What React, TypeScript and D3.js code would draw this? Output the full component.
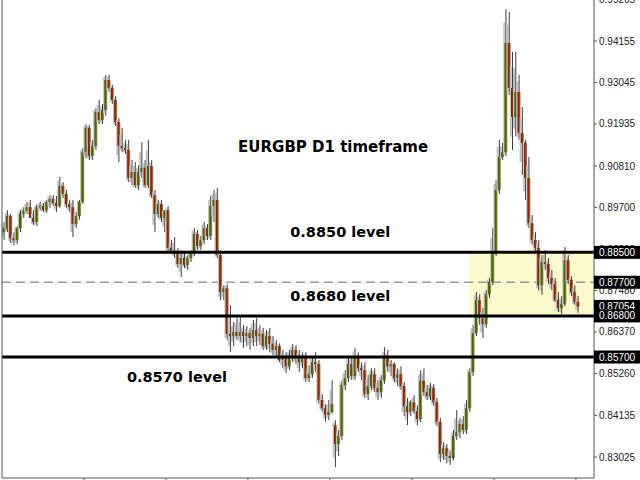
import React from 'react';
import * as d3 from 'd3';

const opens = [
  0.8904, 0.8912, 0.8947, 0.8888, 0.8883, 0.8915, 0.8953, 0.8961, 0.8971, 0.8942,
  0.8931, 0.8971, 0.8974, 0.8963, 0.8985, 0.8993, 0.8982, 0.8974, 0.9027, 0.9006,
  0.8979, 0.8971, 0.8926, 0.8947, 0.8985, 0.9118, 0.9183, 0.9108, 0.9135, 0.9225,
  0.9204, 0.9231, 0.9311, 0.9290, 0.9258, 0.9199, 0.9135, 0.9129, 0.9124, 0.9049,
  0.9065, 0.9030, 0.9065, 0.9076, 0.9030, 0.9081, 0.9003, 0.8953, 0.8979, 0.8942,
  0.8963, 0.8862, 0.8854, 0.8848, 0.8819, 0.8835, 0.8816, 0.8835, 0.8848, 0.8899,
  0.8867, 0.8883, 0.8915, 0.8894, 0.8974, 0.8990, 0.8843, 0.8744, 0.8754, 0.8632,
  0.8626, 0.8637, 0.8626, 0.8637, 0.8626, 0.8634, 0.8621, 0.8642, 0.8626, 0.8632,
  0.8599, 0.8626, 0.8605, 0.8589, 0.8599, 0.8562, 0.8567, 0.8545, 0.8573, 0.8589,
  0.8567, 0.8556, 0.8567, 0.8514, 0.8524, 0.8556, 0.8551, 0.8455, 0.8433, 0.8415,
  0.8423, 0.8388, 0.8337, 0.8359, 0.8495, 0.8514, 0.8551, 0.8519, 0.8567, 0.8540,
  0.8535, 0.8471, 0.8492, 0.8524, 0.8487, 0.8476, 0.8508, 0.8567, 0.8545, 0.8551,
  0.8514, 0.8524, 0.8492, 0.8438, 0.8423, 0.8449, 0.8425, 0.8404, 0.8506, 0.8476,
  0.8465, 0.8487, 0.8449, 0.8396, 0.8310, 0.8326, 0.8305, 0.8300, 0.8359, 0.8369,
  0.8391, 0.8375, 0.8433, 0.8530, 0.8634, 0.8722, 0.8674, 0.8658, 0.8738, 0.8771,
  0.8851, 0.9017, 0.9105, 0.9118, 0.9410, 0.9290, 0.9212, 0.9279, 0.9169, 0.9143,
  0.9049, 0.8928, 0.8883, 0.8862, 0.8762, 0.8824, 0.8819, 0.8781, 0.8765, 0.8722,
  0.8701, 0.8712, 0.8829, 0.8776, 0.8744, 0.8717,
];

const highs = [
  0.8931, 0.8963, 0.8953, 0.8904, 0.8920, 0.8963, 0.8971, 0.8985, 0.8990, 0.8963,
  0.8979, 0.8985, 0.8982, 0.8990, 0.9003, 0.9003, 0.9001, 0.9052, 0.9038, 0.9017,
  0.8990, 0.8990, 0.8958, 0.8990, 0.9129, 0.9193, 0.9191, 0.9151, 0.9236, 0.9258,
  0.9247, 0.9325, 0.9325, 0.9298, 0.9268, 0.9209, 0.9183, 0.9151, 0.9151, 0.9097,
  0.9092, 0.9083, 0.9145, 0.9097, 0.9151, 0.9097, 0.9017, 0.8990, 0.8990, 0.8963,
  0.8974, 0.8883, 0.8891, 0.8862, 0.8856, 0.8851, 0.8843, 0.8856, 0.8915, 0.8910,
  0.8894, 0.8931, 0.8926, 0.9001, 0.9017, 0.9022, 0.8856, 0.8762, 0.8765, 0.8709,
  0.8664, 0.8674, 0.8680, 0.8656, 0.8653, 0.8648, 0.8669, 0.8674, 0.8656, 0.8648,
  0.8642, 0.8648, 0.8626, 0.8615, 0.8607, 0.8589, 0.8583, 0.8589, 0.8605, 0.8602,
  0.8589, 0.8583, 0.8583, 0.8548, 0.8573, 0.8583, 0.8562, 0.8471, 0.8444, 0.8455,
  0.8508, 0.8401, 0.8375, 0.8508, 0.8535, 0.8573, 0.8573, 0.8594, 0.8583, 0.8556,
  0.8556, 0.8522, 0.8540, 0.8540, 0.8508, 0.8522, 0.8596, 0.8589, 0.8562, 0.8556,
  0.8540, 0.8545, 0.8503, 0.8460, 0.8455, 0.8468, 0.8441, 0.8535, 0.8540, 0.8495,
  0.8500, 0.8498, 0.8460, 0.8407, 0.8342, 0.8337, 0.8321, 0.8375, 0.8428, 0.8407,
  0.8412, 0.8455, 0.8540, 0.8656, 0.8744, 0.8738, 0.8701, 0.8749, 0.8781, 0.8915,
  0.9044, 0.9151, 0.9143, 0.9501, 0.9493, 0.9386, 0.9386, 0.9325, 0.9239, 0.9151,
  0.9105, 0.8950, 0.8904, 0.8883, 0.8843, 0.8856, 0.8835, 0.8803, 0.8781, 0.8744,
  0.8733, 0.8864, 0.8843, 0.8786, 0.8762, 0.8733,
];

const lows = [
  0.8883, 0.8904, 0.8875, 0.8869, 0.8872, 0.8904, 0.8942, 0.8953, 0.8958, 0.8923,
  0.8920, 0.8963, 0.8958, 0.8955, 0.8969, 0.8974, 0.8958, 0.8969, 0.8995, 0.8969,
  0.8958, 0.8891, 0.8915, 0.8937, 0.8979, 0.9102, 0.9097, 0.9097, 0.9124, 0.9193,
  0.9193, 0.9215, 0.9279, 0.9247, 0.9188, 0.9092, 0.9118, 0.9113, 0.9038, 0.9030,
  0.9022, 0.9017, 0.9049, 0.9022, 0.9022, 0.8995, 0.8904, 0.8942, 0.8931, 0.8904,
  0.8851, 0.8846, 0.8835, 0.8808, 0.8784, 0.8808, 0.8803, 0.8824, 0.8840, 0.8856,
  0.8856, 0.8872, 0.8883, 0.8883, 0.8931, 0.8835, 0.8722, 0.8722, 0.8615, 0.8583,
  0.8599, 0.8615, 0.8610, 0.8594, 0.8599, 0.8589, 0.8599, 0.8599, 0.8602, 0.8589,
  0.8589, 0.8583, 0.8575, 0.8567, 0.8556, 0.8540, 0.8527, 0.8535, 0.8556, 0.8551,
  0.8530, 0.8540, 0.8503, 0.8503, 0.8514, 0.8530, 0.8444, 0.8423, 0.8396, 0.8401,
  0.8418, 0.8275, 0.8305, 0.8348, 0.8482, 0.8503, 0.8508, 0.8508, 0.8530, 0.8508,
  0.8460, 0.8455, 0.8482, 0.8476, 0.8455, 0.8460, 0.8498, 0.8530, 0.8519, 0.8503,
  0.8492, 0.8482, 0.8412, 0.8388, 0.8412, 0.8418, 0.8388, 0.8396, 0.8465, 0.8455,
  0.8455, 0.8439, 0.8385, 0.8289, 0.8294, 0.8286, 0.8281, 0.8294, 0.8348, 0.8353,
  0.8364, 0.8364, 0.8423, 0.8519, 0.8626, 0.8656, 0.8621, 0.8648, 0.8728, 0.8762,
  0.8840, 0.9006, 0.9097, 0.9108, 0.9271, 0.9124, 0.9161, 0.9151, 0.9057, 0.8990,
  0.8915, 0.8870, 0.8851, 0.8749, 0.8736, 0.8803, 0.8765, 0.8749, 0.8717, 0.8690,
  0.8685, 0.8706, 0.8765, 0.8733, 0.8709, 0.8688,
];

const closes = [
  0.8915, 0.8947, 0.8888, 0.8883, 0.8915, 0.8953, 0.8961, 0.8971, 0.8942, 0.8931,
  0.8971, 0.8974, 0.8963, 0.8985, 0.8993, 0.8982, 0.8974, 0.9028, 0.9006, 0.8979,
  0.8971, 0.8926, 0.8947, 0.8985, 0.9118, 0.9183, 0.9108, 0.9135, 0.9225, 0.9204,
  0.9231, 0.9311, 0.9290, 0.9258, 0.9199, 0.9135, 0.9129, 0.9124, 0.9049, 0.9065,
  0.9030, 0.9065, 0.9076, 0.9030, 0.9081, 0.9003, 0.8953, 0.8979, 0.8942, 0.8963,
  0.8862, 0.8854, 0.8848, 0.8819, 0.8835, 0.8816, 0.8835, 0.8848, 0.8899, 0.8867,
  0.8883, 0.8915, 0.8894, 0.8974, 0.8990, 0.8843, 0.8744, 0.8754, 0.8632, 0.8626,
  0.8637, 0.8626, 0.8637, 0.8626, 0.8634, 0.8621, 0.8642, 0.8626, 0.8632, 0.8599,
  0.8626, 0.8605, 0.8589, 0.8599, 0.8562, 0.8567, 0.8545, 0.8573, 0.8589, 0.8567,
  0.8556, 0.8567, 0.8514, 0.8524, 0.8556, 0.8551, 0.8455, 0.8433, 0.8415, 0.8423,
  0.8444, 0.8337, 0.8359, 0.8495, 0.8514, 0.8551, 0.8519, 0.8567, 0.8540, 0.8535,
  0.8471, 0.8492, 0.8524, 0.8487, 0.8476, 0.8508, 0.8567, 0.8545, 0.8551, 0.8514,
  0.8524, 0.8492, 0.8438, 0.8423, 0.8449, 0.8425, 0.8404, 0.8506, 0.8476, 0.8465,
  0.8487, 0.8449, 0.8396, 0.8310, 0.8326, 0.8305, 0.8300, 0.8359, 0.8369, 0.8391,
  0.8375, 0.8433, 0.8530, 0.8634, 0.8722, 0.8674, 0.8658, 0.8738, 0.8771, 0.8851,
  0.9017, 0.9105, 0.9118, 0.9410, 0.9290, 0.9212, 0.9279, 0.9169, 0.9143, 0.9049,
  0.8928, 0.8883, 0.8862, 0.8762, 0.8824, 0.8819, 0.8781, 0.8765, 0.8722, 0.8701,
  0.8712, 0.8829, 0.8776, 0.8744, 0.8717, 0.87054,
];

const priceTicks = [0.95265, 0.94155, 0.93045, 0.91935, 0.9081, 0.897, 0.8859, 0.8748, 0.8637, 0.8526, 0.84135, 0.83025];
const timeTickBars = [24, 49, 74, 99, 124, 149, 174];
const levelLines = [0.885, 0.868, 0.857];
const midLevel = 0.877;
const zoneTop = 0.885;
const zoneBottom = 0.868;
const zoneStartBar = 142;
const priceMarkers = [0.885, 0.877, 0.87054, 0.868, 0.857];
const title = 'EURGBP D1 timeframe';
const levelTexts = ['0.8850 level', '0.8680 level', '0.8570 level'];

const W = 640;
const H = 480;
const plotLeft = 2;
const plotRight = 594;
const plotBottom = 478;

export default function App() {
  const n = closes.length;
  const x = d3.scaleLinear().domain([0, n - 1]).range([3.6, 577.6]);
  const y = d3.scaleLinear().domain([0.83025, 0.94155]).range([457, 41]);
  const step = x(1) - x(0);
  const fmt = d3.format('.5f');

  const candles = closes.map((c, i) => {
    const o = opens[i];
    const hi = highs[i];
    const lo = lows[i];
    const cx = x(i);
    const top = y(Math.max(o, c));
    const bot = y(Math.min(o, c));
    const yh = y(hi);
    const yl = y(lo);
    const gTop = top - (top - yh) * 0.6;
    const gBot = bot + (yl - bot) * 0.6;
    const bull = c >= o;
    return (
      <g key={i}>
        <rect x={cx - 2.2} y={gTop} width={2} height={Math.max(1, gBot - gTop)} fill="#c3c3c3" />
        <line x1={cx + 0.5} x2={cx + 0.5} y1={yh} y2={yl} stroke="#3c3c3c" strokeWidth={1} />
        <rect x={cx - 1} y={top} width={3} height={Math.max(1, bot - top)} fill={bull ? 'url(#bullG)' : 'url(#bearG)'} />
      </g>
    );
  });

  const font = "'Liberation Sans', Arial, sans-serif";
  const boldFont = "'DejaVu Sans', Verdana, sans-serif";

  return (
    <svg width={W} height={H} style={{ position: 'absolute', left: 0, top: 0, background: '#fff' }}>
      <defs>
        <linearGradient id="bullG" x1="0" x2="1" y1="0" y2="0">
          <stop offset="0%" stopColor="#4a5912" />
          <stop offset="55%" stopColor="#56661a" />
          <stop offset="100%" stopColor="#a2b43c" />
        </linearGradient>
        <linearGradient id="bearG" x1="0" x2="1" y1="0" y2="0">
          <stop offset="0%" stopColor="#6a260a" />
          <stop offset="55%" stopColor="#8a3612" />
          <stop offset="100%" stopColor="#e67a42" />
        </linearGradient>
      </defs>
      <rect x={0} y={0} width={W} height={H} fill="#fff" />
      <rect
        x={x(zoneStartBar)}
        y={y(zoneTop)}
        width={plotRight - x(zoneStartBar)}
        height={y(zoneBottom) - y(zoneTop)}
        fill="#fbf9cd"
      />
      <line x1={plotLeft} x2={plotRight} y1={y(midLevel)} y2={y(midLevel)} stroke="#9a9a9a" strokeWidth={1.5} strokeDasharray="9,5" />
      {candles}
      {levelLines.map((v) => (
        <line key={v} x1={plotLeft} x2={plotRight} y1={y(v)} y2={y(v)} stroke="#000" strokeWidth={3} />
      ))}
      <line x1={plotLeft} x2={plotLeft} y1={0} y2={plotBottom} stroke="#555" strokeWidth={1} />
      <line x1={plotRight} x2={plotRight} y1={0} y2={plotBottom} stroke="#555" strokeWidth={1} />
      <line x1={plotLeft} x2={plotRight} y1={plotBottom} y2={plotBottom} stroke="#555" strokeWidth={1} />
      {timeTickBars.map((b) => (
        <line key={b} x1={x(b) + step / 2} x2={x(b) + step / 2} y1={plotBottom} y2={H} stroke="#555" />
      ))}
      {priceTicks.map((v) => (
        <g key={v}>
          <line x1={plotRight} x2={plotRight + 3} y1={y(v)} y2={y(v)} stroke="#555" />
          <text x={plotRight + 5} y={y(v)} dy="0.35em" fontFamily={font} fontSize={10} fill="#222">
            {fmt(v)}
          </text>
        </g>
      ))}
      {priceMarkers.map((v) => (
        <g key={'m' + v}>
          <rect x={plotRight} y={y(v) - 6.5} width={W - plotRight} height={13} fill="#000" />
          <text x={plotRight + 5} y={y(v)} dy="0.35em" fontFamily={font} fontSize={10} fill="#fff">
            {fmt(v)}
          </text>
        </g>
      ))}
      <text x={x(71.5)} y={y(0.9118)} fontFamily={boldFont} fontWeight="bold" fontSize={15} fill="#000">
        {title}
      </text>
      <text x={x(87.4)} y={y(zoneTop) - 15} fontFamily={boldFont} fontWeight="bold" fontSize={14.5} fill="#000">
        {levelTexts[0]}
      </text>
      <text x={x(87.4)} y={y(zoneBottom) - 15} fontFamily={boldFont} fontWeight="bold" fontSize={14.5} fill="#000">
        {levelTexts[1]}
      </text>
      <text x={x(37.6)} y={y(0.857) + 25} fontFamily={boldFont} fontWeight="bold" fontSize={14.5} fill="#000">
        {levelTexts[2]}
      </text>
    </svg>
  );
}
